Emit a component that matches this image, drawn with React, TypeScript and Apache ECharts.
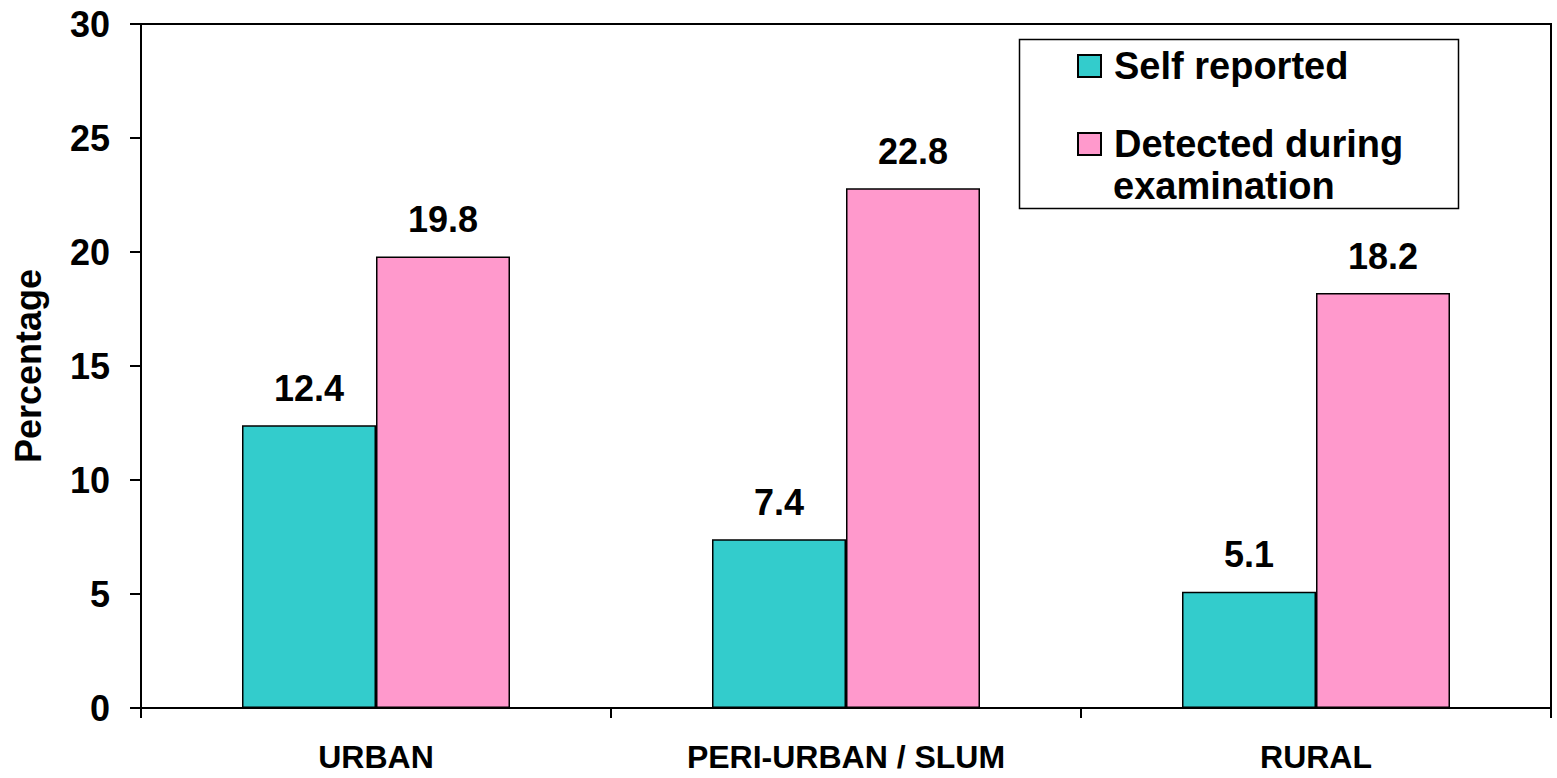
import React, { useEffect, useRef } from "react";
import * as echarts from "echarts";

const categories = ["URBAN", "PERI-URBAN / SLUM", "RURAL"];
const selfReported = [12.4, 7.4, 5.1];
const detected = [19.8, 22.8, 18.2];
const seriesNames = ["Self reported", "Detected during examination"];
const yTicks = { min: 0, max: 30, interval: 5 };

const FONT = "'Liberation Sans', Arial, sans-serif";

export default function App() {
  const ref = useRef<HTMLDivElement>(null);
  useEffect(() => {
    if (!ref.current) return;
    const chart = echarts.init(ref.current, undefined, { renderer: "svg" });
    const labelStyle = {
      show: true,
      position: "top" as const,
      distance: 19,
      fontSize: 36,
      fontWeight: "bold" as const,
      fontFamily: FONT,
      color: "#000",
      formatter: (p: any) => Number(p.value).toFixed(1),
    };
    chart.setOption({
      animation: false,
      backgroundColor: "#fff",
      textStyle: { fontFamily: FONT },
      grid: {
        left: 141,
        right: 6,
        top: 24,
        bottom: 70,
        show: true,
        borderColor: "#000",
        borderWidth: 2,
        backgroundColor: "transparent",
      },
      legend: {
        show: true,
        orient: "vertical",
        left: 1072,
        top: 41,
        itemWidth: 23,
        itemHeight: 22,
        itemGap: 38,
        icon: "rect",
        data: seriesNames,
        formatter: (name: string) =>
          name === seriesNames[1] ? "Detected during" : name,
        textStyle: {
          fontSize: 38,
          fontWeight: "bold",
          fontFamily: FONT,
          color: "#000",
          lineHeight: 40,
          padding: [0, 0, 0, 8],
        },
      },
      graphic: [
        {
          type: "rect",
          shape: { x: 1019.5, y: 39.5, width: 439, height: 169 },
          style: { fill: "none", stroke: "#000", lineWidth: 1.5 },
          z: 10,
        },
        {
          type: "text",
          x: 1113,
          y: 186,
          style: {
            text: "examination",
            fontSize: 38,
            fontWeight: "bold",
            fontFamily: FONT,
            fill: "#000",
            verticalAlign: "middle",
          },
          z: 10,
        },
      ],
      xAxis: {
        type: "category",
        data: categories,
        axisLine: { lineStyle: { color: "#000", width: 2 } },
        axisTick: {
          show: true,
          interval: 0,
          alignWithLabel: false,
          length: 10,
          lineStyle: { color: "#000", width: 2 },
        },
        axisLabel: {
          interval: 0,
          margin: 33,
          fontSize: 32,
          fontWeight: "bold",
          fontFamily: FONT,
          color: "#000",
        },
        splitLine: { show: false },
      },
      yAxis: {
        type: "value",
        min: yTicks.min,
        max: yTicks.max,
        interval: yTicks.interval,
        name: "Percentage",
        nameLocation: "middle",
        nameGap: 95,
        nameRotate: 90,
        nameTextStyle: {
          fontSize: 36,
          fontWeight: "bold",
          fontFamily: FONT,
          color: "#000",
        },
        axisLine: { show: true, lineStyle: { color: "#000", width: 2 } },
        axisTick: {
          show: true,
          length: 11,
          lineStyle: { color: "#000", width: 2 },
        },
        axisLabel: {
          margin: 31,
          fontSize: 36,
          fontWeight: "bold",
          fontFamily: FONT,
          color: "#000",
        },
        splitLine: { show: false },
      },
      series: [
        {
          name: seriesNames[0],
          type: "bar",
          data: selfReported,
          barWidth: 134,
          barGap: "0%",
          itemStyle: { color: "#33CCCC", borderColor: "#000", borderWidth: 1.5 },
          label: labelStyle,
        },
        {
          name: seriesNames[1],
          type: "bar",
          data: detected,
          barWidth: 134,
          barGap: "0%",
          itemStyle: { color: "#FF99CC", borderColor: "#000", borderWidth: 1.5 },
          label: labelStyle,
        },
      ],
    });
    return () => chart.dispose();
  }, []);
  return (
    <div
      ref={ref}
      style={{ position: "absolute", left: 0, top: 0, width: 1557, height: 778 }}
    />
  );
}
